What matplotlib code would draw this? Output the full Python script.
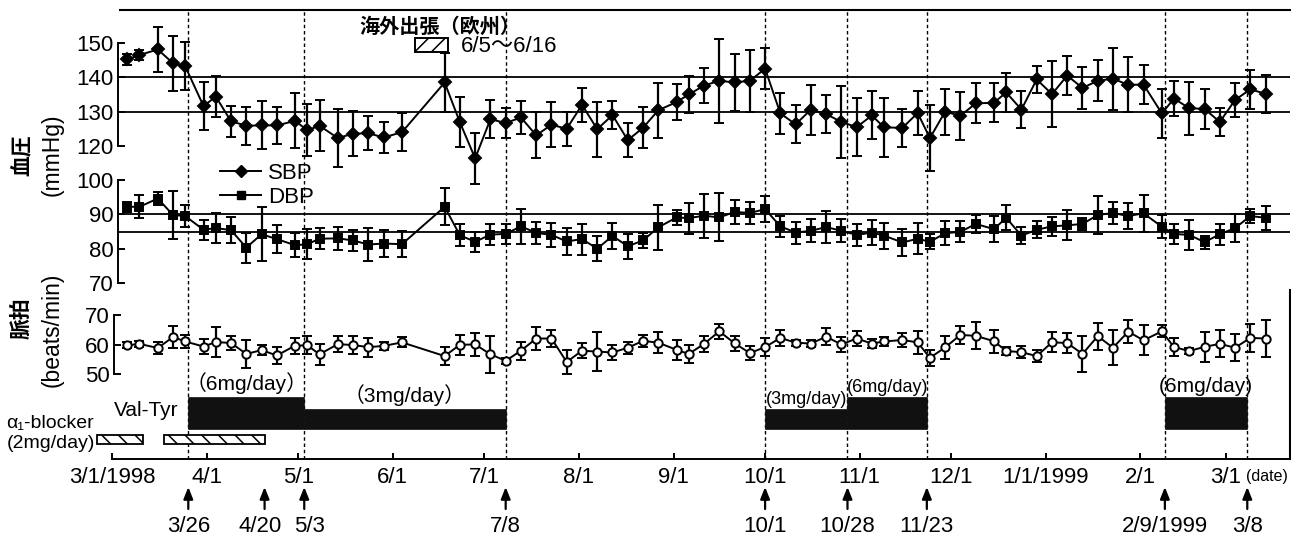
import numpy as np
import matplotlib
matplotlib.use('Agg')
import matplotlib.pyplot as plt
import matplotlib.dates as mdates
import matplotlib.transforms as mtransforms
from matplotlib.lines import Line2D
from matplotlib.patches import Rectangle
from matplotlib import font_manager
import pandas as pd

# ---------------- data ----------------
start_date = '1998-03-01'
# measurement days (days after 3/1/1998)
day_offsets = [5, 9, 15, 20, 24, 30, 34, 39, 44, 49, 54, 60, 64, 68, 74, 79, 84, 89, 95,
               109, 114, 119, 124, 129, 134, 139, 144, 149, 154, 159, 164, 169, 174, 179,
               185, 189, 194, 199, 204, 209, 214, 219, 224, 229, 234, 239, 244, 249, 253,
               259, 264, 268, 273, 278, 283, 289, 293, 298, 303, 308, 313, 318, 323, 328,
               333, 338, 344, 348, 353, 358, 363, 368, 373, 378]

sbp = [145.2, 146.5, 148.1, 144.1, 143.2, 131.6, 134.4, 127.2, 125.9, 126.0, 126.0, 127.3,
       124.6, 125.9, 122.3, 123.6, 123.7, 122.5, 124.0, 138.5, 126.9, 116.4, 127.8, 126.7,
       128.3, 123.1, 126.2, 125.0, 132.0, 124.9, 129.0, 121.7, 125.3, 130.4, 132.8, 135.0,
       137.6, 139.0, 138.5, 139.0, 142.5, 129.5, 126.3, 130.6, 129.3, 127.0, 125.5, 128.9,
       125.4, 125.3, 129.6, 122.3, 130.0, 128.8, 132.4, 132.6, 135.6, 130.6, 139.4, 135.1,
       140.5, 136.9, 139.0, 139.6, 137.8, 137.9, 129.5, 133.8, 131.0, 130.8, 127.0, 133.4,
       136.5, 135.2]
sbp_err = [1.5, 1.5, 6.5, 8.0, 7.0, 7.0, 6.0, 4.5, 5.5, 7.0, 5.5, 8.0, 7.5, 7.5, 8.5, 6.5,
           5.0, 4.5, 5.5, 8.7, 7.3, 7.5, 5.5, 4.5, 4.7, 6.7, 6.5, 5.0, 5.0, 8.0, 4.0, 5.0,
           6.0, 8.0, 5.2, 5.5, 5.2, 12.3, 8.3, 9.0, 6.0, 6.0, 5.5, 7.3, 5.5, 10.5, 8.4, 7.0,
           8.7, 5.6, 6.5, 9.5, 6.7, 7.0, 5.8, 5.6, 5.6, 5.5, 4.0, 9.7, 5.7, 6.0, 6.0, 9.0,
           8.0, 5.6, 7.1, 5.2, 7.7, 5.9, 4.0, 4.9, 5.6, 5.6]

dbp = [92.2, 92.2, 94.6, 89.8, 89.5, 85.5, 86.0, 85.4, 80.3, 84.2, 82.8, 81.0, 81.3, 82.9,
       83.0, 82.4, 81.2, 81.5, 81.3, 92.2, 83.9, 82.0, 84.1, 84.3, 86.5, 84.6, 84.0, 82.1,
       82.8, 80.0, 83.7, 80.7, 82.4, 86.2, 89.1, 88.9, 89.6, 89.1, 90.7, 90.4, 91.5, 86.5,
       84.7, 85.2, 86.3, 85.2, 84.0, 84.7, 83.8, 81.8, 82.9, 82.0, 84.5, 84.9, 87.2, 85.7,
       89.0, 83.8, 85.5, 86.5, 86.8, 87.2, 89.8, 90.4, 89.5, 90.3, 86.4, 84.3, 84.0, 81.9,
       84.2, 86.0, 89.5, 89.0]
dbp_err = [1.5, 3.3, 2.0, 7.0, 3.3, 2.9, 4.4, 3.7, 4.4, 7.9, 4.0, 3.5, 4.3, 3.1, 3.3, 3.1,
           4.7, 3.8, 3.8, 5.4, 3.2, 3.0, 3.0, 3.0, 5.0, 3.2, 3.5, 3.8, 4.5, 3.6, 3.8, 3.6,
           2.3, 6.5, 2.3, 4.5, 6.4, 7.0, 3.6, 3.1, 3.8, 3.0, 3.2, 3.3, 4.7, 3.3, 3.1, 3.7,
           3.8, 3.8, 4.5, 2.2, 3.5, 3.1, 2.6, 3.9, 3.7, 2.5, 2.5, 2.7, 4.4, 1.7, 5.4, 3.3,
           3.8, 5.4, 3.3, 2.9, 4.3, 1.9, 3.0, 4.2, 2.1, 3.5]

pulse = [59.8, 60.3, 58.9, 62.6, 61.1, 59.4, 60.9, 60.6, 56.9, 58.2, 56.4, 59.7, 59.8, 56.8,
         60.2, 59.9, 59.2, 59.6, 60.8, 56.2, 60.0, 60.1, 56.8, 54.6, 58.0, 62.1, 62.1, 54.2,
         58.0, 57.7, 57.4, 59.0, 61.3, 60.7, 58.3, 56.9, 60.3, 64.5, 60.5, 57.2, 59.2, 62.3,
         60.7, 60.4, 62.7, 60.1, 62.1, 60.4, 61.1, 61.6, 60.8, 55.6, 59.1, 63.3, 63.0, 61.2,
         57.9, 57.5, 56.2, 60.8, 60.6, 56.9, 62.9, 59.0, 64.4, 61.5, 64.5, 59.2, 57.9, 59.3,
         60.3, 59.0, 62.3, 62.1]
pulse_err = [1.0, 1.0, 2.0, 3.8, 2.1, 2.5, 4.9, 2.4, 4.6, 1.8, 3.0, 2.7, 3.0, 3.6, 2.6, 3.0,
             3.2, 1.4, 1.7, 3.0, 3.4, 4.0, 6.2, 1.0, 3.0, 3.9, 2.9, 4.1, 2.5, 6.5, 2.4, 2.0,
             2.0, 3.6, 3.3, 3.0, 2.8, 2.6, 2.6, 2.4, 3.1, 2.8, 1.0, 1.2, 2.8, 2.5, 2.6, 1.5,
             1.5, 2.5, 3.9, 2.6, 3.8, 3.0, 4.5, 3.9, 1.5, 2.1, 2.0, 3.4, 3.5, 6.0, 4.5, 5.8,
             3.8, 5.0, 2.0, 3.0, 1.0, 5.0, 4.5, 4.5, 4.6, 6.3]

sbp_ref = [140, 130]
dbp_ref = [90, 85]

event_dates = ['1998-03-26', '1998-04-20', '1998-05-03', '1998-07-08', '1998-10-01',
               '1998-10-28', '1998-11-23', '1999-02-09', '1999-03-08']
event_labels = ['3/26', '4/20', '5/3', '7/8', '10/1', '10/28', '11/23', '2/9/1999', '3/8']
dashed_dates = ['1998-03-26', '1998-05-03', '1998-07-08', '1998-10-01', '1998-10-28',
                '1998-11-23', '1999-02-09', '1999-03-08']

valtyr_start = ['1998-03-26', '1998-05-03', '1998-10-01', '1998-10-28', '1999-02-09']
valtyr_end = ['1998-05-03', '1998-07-08', '1998-10-28', '1998-11-23', '1999-03-08']
valtyr_dose = [6, 3, 3, 6, 6]
valtyr_text = ['（6mg/day）', '（3mg/day）', '(3mg/day)', '(6mg/day)', '(6mg/day)']

alpha_start = ['1998-02-24', '1998-03-18']
alpha_end = ['1998-03-11', '1998-04-20']

month_ticks = ['1998-03-01', '1998-04-01', '1998-05-01', '1998-06-01', '1998-07-01',
               '1998-08-01', '1998-09-01', '1998-10-01', '1998-11-01', '1998-12-01',
               '1999-01-01', '1999-02-01', '1999-03-01']
month_labels = ['3/1/1998', '4/1', '5/1', '6/1', '7/1', '8/1', '9/1', '10/1', '11/1',
                '12/1', '1/1/1999', '2/1', '3/1']

trip_title = '海外出張（欧州）'
trip_text = '6/5～6/16'

# ---------------- style ----------------
avail = {f.name for f in font_manager.fontManager.ttflist}
NARROW = 'Liberation Sans Narrow' if 'Liberation Sans Narrow' in avail else 'Liberation Sans'
plt.rcParams['font.family'] = ['Liberation Sans', 'Noto Sans CJK JP', 'DejaVu Sans']
plt.rcParams['hatch.linewidth'] = 1.1
plt.rcParams['axes.linewidth'] = 1.4

W, H = 1291, 547
X_LEFT, X_RIGHT = 112, 1290          # pixel positions of day 0 and right border
DAYS_SPAN = 386
BAR_H = {6: 32, 3: 20}
TEXT_OFF = [14, 14, 10, 10, 10]
TEXT_SIZE = [15, 15, 13, 13, 15]
LABEL_DX = [0, -4, 5, 0, 0, 0, 0, 0, 0]

def d2n(s):
    return mdates.date2num(pd.Timestamp(s).to_pydatetime())

start = pd.Timestamp(start_date)
xdates = mdates.date2num((start + pd.to_timedelta(day_offsets, unit='D')).to_pydatetime())
xlim = (d2n(start_date), d2n(start_date) + DAYS_SPAN)

fig = plt.figure(figsize=(W / 100, H / 100), dpi=100)

def rect(y_top, y_bot):
    return [X_LEFT / W, 1 - y_bot / H, (X_RIGHT - X_LEFT) / W, (y_bot - y_top) / H]

def fx(x):
    return x / W

def fy(y):
    return 1 - y / H

ax_bg = fig.add_axes(rect(10, 459))
ax_s = fig.add_axes(rect(10, 146))
ax_d = fig.add_axes(rect(180, 283))
ax_p = fig.add_axes(rect(315, 374.5))
ax_b = fig.add_axes(rect(380, 459))

for ax in (ax_bg, ax_s, ax_d, ax_p, ax_b):
    ax.set_xlim(*xlim)
    ax.set_facecolor('none')
    for sp in ax.spines.values():
        sp.set_visible(False)
    ax.set_xticks([])
    ax.set_yticks([])

# dashed event lines
ax_bg.set_ylim(0, 1)
for d in dashed_dates:
    ax_bg.axvline(d2n(d), color='black', lw=1.0, ls=(0, (2.5, 2)), zorder=0)

def style_left(ax, lo, hi, ticks, xpos_px):
    ax.spines['left'].set_visible(True)
    ax.spines['left'].set_bounds(lo, hi)
    ax.spines['left'].set_position(('axes', (xpos_px - X_LEFT) / (X_RIGHT - X_LEFT)))
    ax.set_yticks(ticks)
    ax.tick_params(axis='y', direction='in', length=5, width=1.4, labelsize=16, pad=3)

def draw_eb(ax, y, err, marker, ms, mfc):
    eb = ax.errorbar(xdates, y, yerr=err, fmt='-' + marker, color='black', ms=ms, mfc=mfc,
                     mec='black', mew=1.4, lw=1.4, elinewidth=1.6, capsize=3.3, capthick=1.6)
    eb[0].set_clip_on(False)
    for a in list(eb[1]) + list(eb[2]):
        a.set_clip_on(False)
    return eb

# SBP
ax_s.set_ylim(120, 159.6)
style_left(ax_s, 120, 150, [120, 130, 140, 150], 118)
for r in sbp_ref:
    ax_s.axhline(r, xmin=(118 - X_LEFT) / (X_RIGHT - X_LEFT), xmax=1, color='black', lw=1.3)
draw_eb(ax_s, sbp, sbp_err, 'D', 6.0, 'black')

# DBP
ax_d.set_ylim(70, 100)
style_left(ax_d, 70, 100, [70, 80, 90, 100], 118)
for r in dbp_ref:
    ax_d.axhline(r, xmin=(118 - X_LEFT) / (X_RIGHT - X_LEFT), xmax=1, color='black', lw=1.3)
draw_eb(ax_d, dbp, dbp_err, 's', 5.5, 'black')

# Pulse
ax_p.set_ylim(50, 70)
style_left(ax_p, 50, 70, [50, 60, 70], 114)
draw_eb(ax_p, pulse, pulse_err, 'o', 6.0, 'white')

# legend
handles = [Line2D([], [], color='black', marker='D', ms=6.0, lw=1.4, label='SBP'),
           Line2D([], [], color='black', marker='s', ms=5.5, lw=1.4, label='DBP')]
fig.legend(handles=handles, loc='upper left', bbox_to_anchor=(fx(220), fy(163)),
           frameon=False, fontsize=16, handlelength=1.85, handletextpad=0.3,
           labelspacing=0.12, borderpad=0, borderaxespad=0)

# axis titles
fig.text(fx(22), fy(155), '血圧', rotation=90, ha='center', va='center', fontsize=15,
         fontweight='bold')
fig.text(fx(52), fy(155), '(mmHg)', rotation=90, ha='center', va='center', fontsize=16.5)
fig.text(fx(22), fy(318), '脈拍', rotation=90, ha='center', va='center', fontsize=15,
         fontweight='bold')
fig.text(fx(52), fy(330), '(beats/min)', rotation=90, ha='center', va='center',
         fontsize=16.5)

# trip legend
fig.text(fx(440), fy(27), trip_title, ha='center', va='center', fontsize=14.5,
         fontweight='bold')
fig.add_artist(Rectangle((fx(415), fy(52)), 33 / W, 14 / H, transform=fig.transFigure,
                         facecolor='white', edgecolor='black', hatch='//', lw=1.4))
fig.text(fx(461), fy(46), trip_text, ha='left', va='center', fontsize=16)

# ---------------- bottom panel ----------------
ax_b.set_ylim(0, 79)
ax_b.spines['bottom'].set_visible(True)
ax_b.spines['bottom'].set_bounds(xlim[0], xlim[1])
ax_b.set_xticks([d2n(m) for m in month_ticks])
ax_b.set_xticklabels(month_labels, fontsize=16)
ax_b.tick_params(axis='x', direction='in', length=4, width=1.4, pad=6)

for s, e, dose, txt, off, fs in zip(valtyr_start, valtyr_end, valtyr_dose, valtyr_text,
                                    TEXT_OFF, TEXT_SIZE):
    x0, x1 = d2n(s), d2n(e)
    ax_b.bar(x0, BAR_H[dose], width=x1 - x0, bottom=30, align='edge', color='#111111',
             edgecolor='#111111', lw=0.5)
    fam = None if txt.startswith('（') else NARROW
    ax_b.text((x0 + x1) / 2, 30 + BAR_H[dose] + off, txt, ha='center', va='center',
              fontsize=fs, family=fam)

for s, e in zip(alpha_start, alpha_end):
    x0, x1 = d2n(s), d2n(e)
    b = ax_b.bar(x0, 9, width=x1 - x0, bottom=15, align='edge', facecolor='white',
                 edgecolor='black', hatch='\\\\', lw=1.3)
    for p in b:
        p.set_clip_on(False)

fig.text(fx(146), fy(410), 'Val-Tyr', ha='center', va='center', fontsize=15)
fig.text(fx(50), fy(423), 'α₁-blocker', ha='center', va='center', fontsize=14,
         family=[NARROW, 'DejaVu Sans'])
fig.text(fx(51), fy(443), '(2mg/day)', ha='center', va='center', fontsize=14, family=NARROW)
fig.text(fx(1288), fy(476), '(date)', ha='right', va='center', fontsize=11.5, family=NARROW)

# frame lines
fig.add_artist(Line2D([fx(120), fx(1291)], [fy(10), fy(10)], transform=fig.transFigure,
                      color='black', lw=1.5))
fig.add_artist(Line2D([fx(1290), fx(1290)], [fy(290), fy(459)], transform=fig.transFigure,
                      color='black', lw=1.5))

# arrows
trans = mtransforms.blended_transform_factory(ax_b.transData, fig.transFigure)
for d, lab, dx in zip(event_dates, event_labels, LABEL_DX):
    x = d2n(d)
    ax_b.annotate('', xy=(x, fy(487)), xytext=(x, fy(509)), xycoords=trans,
                  textcoords=trans, annotation_clip=False,
                  arrowprops=dict(arrowstyle='-|>,head_length=0.7,head_width=0.28',
                                  color='black', lw=1.6, shrinkA=0, shrinkB=0))
    off = mtransforms.offset_copy(trans, fig=fig, x=dx, y=0, units='dots')
    ax_b.text(x, fy(526), lab, transform=off, ha='center', va='center', fontsize=16)

fig.savefig('out.png', dpi=100)
